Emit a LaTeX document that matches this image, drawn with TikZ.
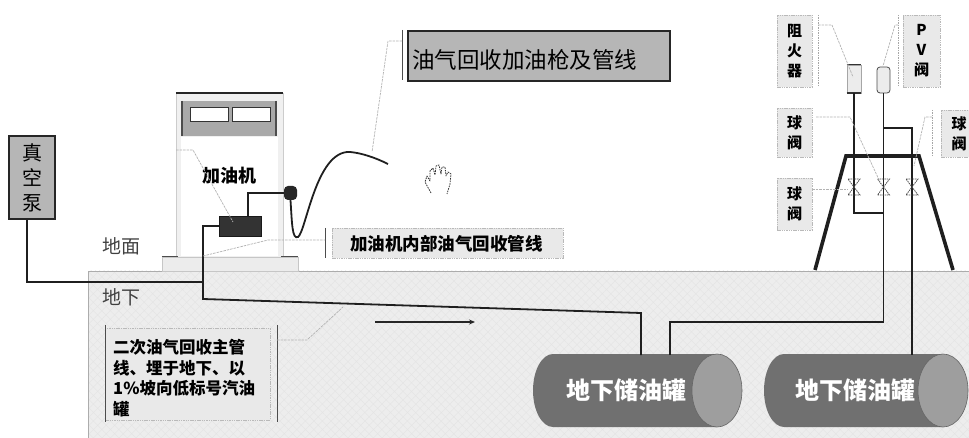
\documentclass[tikz,border=0pt]{standalone}
\usepackage{fontspec}
\setmainfont{Noto Sans CJK SC}
\usetikzlibrary{arrows.meta,calc,patterns.meta}

\definecolor{soil}{HTML}{EDEDED}
\definecolor{tagdark}{HTML}{B6B6B6}
\definecolor{taglight}{HTML}{E9E9E9}
\definecolor{panelgray}{HTML}{A9A9A9}
\definecolor{tankbody}{HTML}{707070}
\definecolor{tankcap}{HTML}{9E9E9E}

\tikzset{
  pipe/.style={line width=1.8pt, draw=black!88},
  callout/.style={draw=gray!60, line width=0.7pt, dash pattern=on 2.5pt off 1pt},
  bar/.style={draw=black!70, line width=1pt},
  darktag/.style={draw=black!85, line width=1.2pt, fill=tagdark, inner sep=0pt},
  lighttag/.style={draw=gray!55, line width=0.6pt, dash pattern=on 1.5pt off 0.8pt, fill=taglight, inner sep=0pt},
  vtext/.style={align=center, inner sep=0pt, font=\bfseries\fontsize{15}{20}\selectfont},
  tanktext/.style={text=white, inner sep=0pt, font=\bfseries\fontsize{24}{26}\selectfont},
  frame/.style={line width=3.6pt, draw=black!88, line join=miter},
  valve/.pic={\draw[black!70, line width=0.8pt, dash pattern=on 1.5pt off 0.8pt]
      (-6,-8) -- (6,-8) -- (-6,8) -- (6,8) -- cycle;}
}

\begin{document}
\begin{tikzpicture}[x=1pt,y=-1pt]
\useasboundingbox (0,0) rectangle (969,438);
\clip (0,0) rectangle (969,438);

% ---------- underground area ----------
\fill[soil] (88,271) rectangle (969,438);
\fill[pattern={Lines[angle=45, distance=6pt, line width=0.35pt]}, pattern color=gray!22] (88,271) rectangle (969,438);
\fill[pattern={Lines[angle=-45, distance=6pt, line width=0.35pt]}, pattern color=gray!22] (88,271) rectangle (969,438);
\draw[gray!65, line width=0.8pt] (88,438) -- (88,271) -- (969,271);

\node[text=black!75, font=\fontsize{19}{20}\selectfont, inner sep=0pt] (surface) at (121,246) {地面};
\node[text=black!75, font=\fontsize{19}{20}\selectfont, inner sep=0pt] (under) at (121,297) {地下};

% ---------- vacuum pump ----------
\node[darktag, minimum width=46, minimum height=83, align=center,
      font=\fontsize{20}{25}\selectfont] (pump) at (32,177.5) {真\\空\\泵};

% ---------- fuel dispenser ----------
\node[draw=gray!40, fill=gray!12, minimum width=107, minimum height=164, inner sep=0pt] (disp) at (229.5,175) {};
\fill[white] (181,137) rectangle (278,256);
\draw[line width=2pt, black!85] (disp.north west) -- (disp.north east);
\node[fill=panelgray, minimum width=94, minimum height=35, inner sep=0pt] (panel) at (229,118.5) {};
\draw[line width=1.6pt, black!70] (panel.north west) -- (panel.south west);
\draw[line width=1.6pt, black!70] (panel.north east) -- (panel.south east);
\node[draw=black!80, fill=white, line width=1pt, minimum width=38, minimum height=14, inner sep=0pt] (win1) at (209,115) {};
\node[draw=black!80, fill=white, line width=1pt, minimum width=38, minimum height=14, inner sep=0pt] (win2) at (251,115) {};
\node[font=\bfseries\fontsize{18}{20}\selectfont, inner sep=0pt] (dispname) at (229,176) {加油机};
\node[draw=gray!45, fill=gray!15, minimum width=136, minimum height=14, inner sep=0pt] (base) at (230,264) {};
\draw[line width=1.3pt, black!70] (base.north west) -- ++(16,0);
\draw[line width=1.3pt, black!70] (base.north east) -- ++(-17,0);

% control unit and nozzle holder
\node[fill=black!80, draw=black!90, minimum width=42, minimum height=20, inner sep=0pt] (ctrl) at (240,226) {};
\node[fill=black!85, rounded corners=4pt, minimum width=13, minimum height=14, inner sep=0pt] (holder) at (290.5,193) {};

\coordinate (riser) at (248,193);
\draw[pipe] (ctrl.north -| riser) -- (riser) -- (holder.west);

% nozzle hose
\coordinate (hoseEnd) at (388,164);
\draw[pipe] (holder.south) .. controls (292,222) and (292,240) .. (298,237)
  .. controls (306,232) and (316,150) .. (350,152)
  .. controls (362,153) and (376,158) .. (hoseEnd);

% grab cursor
\draw[black!80, line width=0.8pt, dash pattern=on 1.6pt off 1pt, line join=round]
  (431,193) -- (425,182) -- (427,176) -- (430,181) -- (430,171) -- (433,168) -- (435,175)
  -- (436,166) -- (439,165) -- (441,174) -- (442,167) -- (445,167) -- (446,176)
  -- (448,172) -- (451,174) -- (450,184) -- (447,194);

% ---------- underground tanks ----------
\fill[tankbody] (717,354) -- (553,354) arc[start angle=-90, end angle=-270, x radius=20, y radius=36.5] -- (717,427) -- cycle;
\filldraw[fill=tankcap, draw=black!60, line width=0.6pt] (717,390.5) ellipse[x radius=25, y radius=36.5];
\fill[tankbody] (943,354) -- (784,354) arc[start angle=-90, end angle=-270, x radius=20, y radius=36.5] -- (943,427) -- cycle;
\filldraw[fill=tankcap, draw=black!60, line width=0.6pt] (943,390.5) ellipse[x radius=25, y radius=36.5];
\node[tanktext] (tank1) at (626,390) {地下储油罐};
\node[tanktext] (tank2) at (855,390) {地下储油罐};
\coordinate (t1a) at (641,355);
\coordinate (t1b) at (670,355);
\coordinate (t2a) at (912,355);

% ---------- vapour return main line ----------
\coordinate (mA) at (203,226);
\coordinate (mB) at (203,299);
\coordinate (mC) at (641,313);
\coordinate (vac) at (27,282);
\draw[pipe] (ctrl.west) -- (mA) -- (mB) -- (mC) -- (t1a);
\draw[pipe] (pump.south -| vac) -- (vac) -- (vac -| mB);
\coordinate (flowA) at (375,322);
\coordinate (flowB) at (475,322);
\draw[black!85, line width=1.3pt, -{Stealth[length=6pt,width=5pt]}] (flowA) -- (flowB);

% ---------- vent stack ----------
\node[fill=gray!15, draw=gray!70, line width=0.6pt, minimum width=14, minimum height=28, inner sep=0pt] (arr) at (854,79) {};
\draw[line width=1.6pt, black!80] (arr.north west) -- (arr.north east);
\draw[line width=1.6pt, black!80] (arr.south west) -- (arr.south east);
\node[fill=gray!15, draw=black!70, line width=0.8pt, rounded corners=3pt, minimum width=13, minimum height=26, inner sep=0pt] (pv) at (883.5,80) {};

\coordinate (lk) at (854,213);
\coordinate (ck) at (883.5,322);
\coordinate (rk) at (883.5,128);
\draw[pipe] (arr.south) -- (lk) -- (lk -| pv.south);
\draw[pipe] (pv.south) -- (ck) -- (ck -| t1b) -- (t1b);
\draw[pipe] (rk) -- (rk -| t2a) -- (t2a);

\coordinate (fa) at (815,270);
\coordinate (fb) at (846,156);
\coordinate (fc) at (919,156);
\coordinate (fd) at (953,270);
\draw[frame] (fa) -- (fb) -- (fc) -- (fd);

\path (854,187) pic {valve};
\path (883.5,187) pic {valve};
\path (912,187) pic {valve};

% ---------- tags and callouts ----------
% nozzle and hose tag
\node[darktag, minimum width=262, minimum height=50] (tagnozzle) at (539,56) {};
\node[anchor=west, inner sep=0pt, font=\fontsize{22.5}{24}\selectfont] (tagnozzletext) at (412,60) {油气回收加油枪及管线};
\coordinate (bn) at (402,30);
\draw[bar] (bn) -- ++(0,50);
\draw[callout] (402,41) -- (388,41) -- (372,152);

% internal line tag
\node[lighttag, minimum width=231, minimum height=30] (taginner) at (447.5,243) {};
\node[inner sep=0pt, font=\bfseries\fontsize{17.5}{19}\selectfont] (taginnertext) at (446.5,244) {加油机内部油气回收管线};
\draw[bar] (325,228) -- (325,258);
\draw[callout] (203,256) -- (268,240) -- (325,240);
\draw[callout] (176,150) -- (193,150) -- (233,222);

% main line tag
\node[lighttag, minimum width=165, minimum height=92] (tagmain) at (187.5,374) {};
\node[anchor=west, align=left, inner sep=0pt, font=\bfseries\fontsize{16.5}{20.5}\selectfont] (tagmaintext) at (113,378)
  {二次油气回收主管\\线、埋于地下、以\\1\%坡向低标号汽油\\罐};
\draw[bar] (105,325) -- (105,422);
\draw[bar] (277,325) -- (277,422);
\draw[callout] (277,340) -- (307,340) -- (343,307);

% vent stack tags
\node[lighttag, vtext, minimum width=35, minimum height=72] (tagarr) at (794.5,51) {阻\\火\\器};
\draw[bar, dash pattern=on 1.5pt off 1pt, gray!70] (818,15) -- (818,87);
\draw[callout] (818,25) -- (832,25) -- (853,77);

\node[lighttag, vtext, minimum width=37, minimum height=72] (tagpv) at (921.5,51) {P\\V\\阀};
\draw[bar, dash pattern=on 1.5pt off 1pt, gray!70] (898,15) -- (898,87);
\draw[callout] (898,25) -- (895,25) -- (883,66);

\node[lighttag, vtext, minimum width=35, minimum height=49] (tagbv1) at (794.5,132.5) {球\\阀};
\draw[callout] (816,117) -- (850,117) -- (880,182);

\node[lighttag, vtext, minimum width=35, minimum height=52] (tagbv2) at (794.5,204) {球\\阀};
\draw[callout] (tagbv2.east |- 0,189) -- (848,189);

\node[lighttag, vtext, minimum width=36, minimum height=47] (tagbv3) at (959,133.5) {球\\阀};
\draw[bar, dash pattern=on 1.5pt off 1pt, gray!70] (932,110) -- (932,157);
\draw[callout] (932,117) -- (925,117) -- (914,166);

\end{tikzpicture}
\end{document}
